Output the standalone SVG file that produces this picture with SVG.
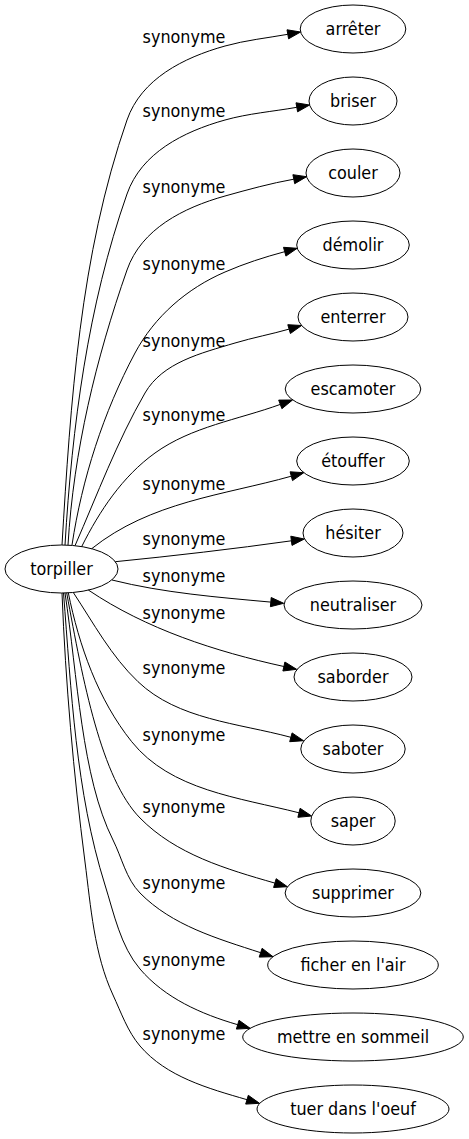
<svg xmlns="http://www.w3.org/2000/svg" width="469" height="1139" viewBox="0 0 469 1139">
<style>
  text { font-family: "DejaVu Sans Condensed", "DejaVu Sans", sans-serif; font-stretch: condensed; font-size: 17.8px; fill: #000; text-anchor: middle; }
  .node ellipse { fill: none; stroke: #000; stroke-width: 1; }
  .edge path { fill: none; stroke: #000; stroke-width: 1; }
  .edge polygon { fill: #000; stroke: #000; stroke-width: 1; }
</style>
<rect x="0" y="0" width="469" height="1139" fill="#fff"/>
<g id="edges" class="edge">
  <path d="M62,545 C70.6,402 80,255 127,120 C141.3,79 183.2,57.7 225,46 C245.2,40.3 267.1,38 287.8,34.3"/>
  <polygon points="300.6,32 288.6,38.8 287,29.8"/>
  <path d="M65,545 C72.1,426 87.7,306 127,194 C141.3,153 183.2,131.7 225,120 C248.1,113.5 273.2,111.5 296.8,107.3"/>
  <polygon points="309.6,105 297.6,111.8 296,102.8"/>
  <path d="M68,545 C73.6,451 96,358.6 127,270 C141.3,229 183.2,207.7 225,196 C247.6,189.7 270.7,183.3 293.8,179.2"/>
  <polygon points="306.6,176.7 294.7,183.7 292.9,174.7"/>
  <path d="M72,545 C82,479 103.5,412 135,353 C154.5,316.5 186.9,288.4 225,272 C245.2,263.3 263.5,257.4 284.7,251.7"/>
  <polygon points="297.2,248.3 285.9,256.1 283.5,247.3"/>
  <path d="M75,545.7 C97.4,494.4 117,441.5 145,393 C162.75,362.3 201,353.2 235,343 C253,337.6 271.8,334.1 289.1,329.1"/>
  <polygon points="301.6,325.5 290.4,333.5 287.8,324.7"/>
  <path d="M81.7,546.6 C99.6,510.8 122.5,476.4 155,453 C191.5,426.7 238,419.7 280.3,404.4"/>
  <polygon points="292.5,400 281.9,408.7 278.7,400.1"/>
  <path d="M91.7,548.7 C150.2,501.8 223.9,495.1 291.3,476.2"/>
  <polygon points="303.8,472.7 292.5,480.6 290.1,471.8"/>
  <path d="M115.3,561.7 C173.3,555.9 233.4,549 291.4,540.8"/>
  <polygon points="304.3,539 292,545.4 290.8,536.2"/>
  <path d="M112,580 C163.4,592.9 218.1,597.3 270.8,602.1"/>
  <polygon points="283.7,603.3 270.4,606.7 271.2,597.5"/>
  <path d="M88.3,590 C146.4,629.2 215.5,651.5 283.9,666.5"/>
  <polygon points="296.6,669.3 282.9,671 284.9,662"/>
  <path d="M73.3,592.5 C93.7,623.4 111.2,656.2 138,681.7 C178,719.7 237.7,723 290.9,737.3"/>
  <polygon points="303.5,740.7 289.7,741.7 292.1,732.9"/>
  <path d="M68.3,592.8 C79.1,645.7 97.95,699.6 131.7,741.7 C170.6,790.3 238.6,797.5 299,812.8"/>
  <polygon points="311.6,816 297.9,817.3 300.1,808.3"/>
  <path d="M66.7,592.9 C82.9,681.5 101.5,778.7 140,818 C175.6,854.3 226.1,869.1 274.9,883.1"/>
  <polygon points="287.4,886.7 273.6,887.5 276.2,878.7"/>
  <path d="M65,593 C77.6,676 81.5,777.5 113,840 C122,857.9 126,878.7 140,893 C171.9,925.5 217.4,938.6 260.65,952.7"/>
  <polygon points="273,956.7 259.2,957.1 262.1,948.3"/>
  <path d="M63.5,593 C71.3,690.7 75.6,791.5 105,885 C114,913.6 120.5,946.2 140,969 C164.9,998.1 200.9,1014 237.7,1024.7"/>
  <polygon points="250.2,1028.3 236.4,1029.1 239,1020.3"/>
  <path d="M62,593 C65.6,683 73.4,772.7 85,862 C90.8,906.6 94.1,954.2 113,995 C121,1012.2 127.65,1031.6 140,1046 C166.5,1076.9 207.9,1088.3 247,1099.7"/>
  <polygon points="259.5,1103.3 245.7,1104.1 248.3,1095.3"/>
</g>
<g id="edge-labels">
  <text x="184" y="43">synonyme</text>
  <text x="184" y="117">synonyme</text>
  <text x="184" y="193">synonyme</text>
  <text x="184" y="270">synonyme</text>
  <text x="184" y="347">synonyme</text>
  <text x="184" y="421">synonyme</text>
  <text x="184" y="490">synonyme</text>
  <text x="184" y="545">synonyme</text>
  <text x="184" y="582">synonyme</text>
  <text x="184" y="619">synonyme</text>
  <text x="184" y="674">synonyme</text>
  <text x="184" y="741">synonyme</text>
  <text x="184" y="813">synonyme</text>
  <text x="184" y="889">synonyme</text>
  <text x="184" y="966">synonyme</text>
  <text x="184" y="1040">synonyme</text>
</g>
<g id="node-torpiller" class="node"><ellipse cx="61.5" cy="569" rx="56.5" ry="24"/><text x="61.5" y="575">torpiller</text></g>
<g id="node-arreter" class="node"><ellipse cx="353" cy="29" rx="52.8" ry="24"/><text x="353" y="35">arrêter</text></g>
<g id="node-briser" class="node"><ellipse cx="353" cy="101" rx="44" ry="24"/><text x="353" y="107">briser</text></g>
<g id="node-couler" class="node"><ellipse cx="353" cy="173" rx="47" ry="24"/><text x="353" y="179">couler</text></g>
<g id="node-demolir" class="node"><ellipse cx="353" cy="245" rx="56.3" ry="24"/><text x="353" y="251">démolir</text></g>
<g id="node-enterrer" class="node"><ellipse cx="353" cy="317" rx="55" ry="24"/><text x="353" y="323">enterrer</text></g>
<g id="node-escamoter" class="node"><ellipse cx="353" cy="389" rx="67.8" ry="24"/><text x="353" y="395">escamoter</text></g>
<g id="node-etouffer" class="node"><ellipse cx="353" cy="461" rx="56.3" ry="24"/><text x="353" y="467">étouffer</text></g>
<g id="node-hesiter" class="node"><ellipse cx="353" cy="533" rx="50" ry="24"/><text x="353" y="539">hésiter</text></g>
<g id="node-neutraliser" class="node"><ellipse cx="353" cy="605" rx="69" ry="24"/><text x="353" y="611">neutraliser</text></g>
<g id="node-saborder" class="node"><ellipse cx="353" cy="677" rx="59" ry="24"/><text x="353" y="683">saborder</text></g>
<g id="node-saboter" class="node"><ellipse cx="353" cy="749" rx="52.2" ry="24"/><text x="353" y="755">saboter</text></g>
<g id="node-saper" class="node"><ellipse cx="353" cy="821" rx="42.2" ry="24"/><text x="353" y="827">saper</text></g>
<g id="node-supprimer" class="node"><ellipse cx="353" cy="893" rx="67.9" ry="24"/><text x="353" y="899">supprimer</text></g>
<g id="node-ficher-en-l-air" class="node"><ellipse cx="353" cy="965" rx="85.3" ry="24"/><text x="353" y="971">ficher en l'air</text></g>
<g id="node-mettre-en-sommeil" class="node"><ellipse cx="353" cy="1037" rx="110.3" ry="24"/><text x="353" y="1043">mettre en sommeil</text></g>
<g id="node-tuer-dans-l-oeuf" class="node"><ellipse cx="353" cy="1109" rx="96" ry="24"/><text x="353" y="1115">tuer dans l'oeuf</text></g>
</svg>
